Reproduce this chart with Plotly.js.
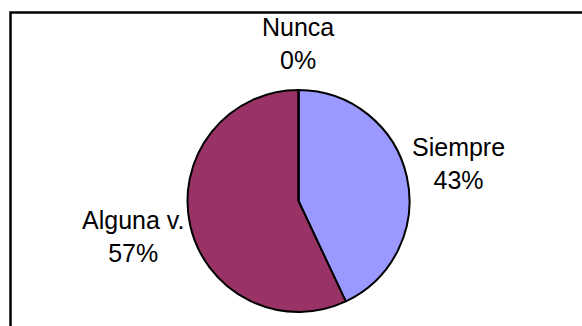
<!DOCTYPE html>
<html>
<head>
<meta charset="utf-8">
<script src="https://cdn.plot.ly/plotly-3.0.1.min.js"></script>
<style>html,body{margin:0;padding:0;background:#fff;}#chart{width:582px;height:326px;}</style>
</head>
<body>
<div id="chart"></div>
<script>
const categories = ["Siempre", "Alguna v.", "Nunca"];
const values = [43, 57, 0];
const colors = ["#9999FF", "#993366", "#FFFFCC"];
const labelPercents = ["43%", "57%", "0%"];

// label placement (paper fractions) for each category
const labelPos = [[0.787, 0.497], [0.2285, 0.276], [0.512, 0.868]];

const W = 582, H = 326;

const trace = {
  type: "pie",
  labels: categories,
  values: values,
  sort: false,
  direction: "clockwise",
  rotation: 0,
  textinfo: "none",
  hoverinfo: "label+percent",
  marker: { colors: colors, line: { color: "#000000", width: 2 } },
  domain: { x: [187.5 / W, 409.5 / W], y: [14 / H, 236 / H] },
  showlegend: false
};

const annotations = categories.map((c, i) => ({
  xref: "paper", yref: "paper",
  x: labelPos[i][0], y: labelPos[i][1],
  xanchor: "center", yanchor: "middle",
  align: "center",
  showarrow: false,
  text: c + "<br>" + labelPercents[i],
  font: { family: "Liberation Sans, Arial, sans-serif", size: 25, color: "#000000" }
}));

const layout = {
  width: W, height: H,
  margin: { l: 0, r: 0, t: 0, b: 0 },
  paper_bgcolor: "#ffffff",
  plot_bgcolor: "#ffffff",
  showlegend: false,
  annotations: annotations,
  shapes: [{
    type: "rect", xref: "paper", yref: "paper",
    x0: 10.5 / W, x1: 1.05, y0: -0.05, y1: 1 - 12.5 / H,
    line: { color: "#000000", width: 2.5 },
    fillcolor: "rgba(0,0,0,0)"
  }]
};

Plotly.newPlot("chart", [trace], layout, { displayModeBar: false, staticPlot: true });
</script>
</body>
</html>
